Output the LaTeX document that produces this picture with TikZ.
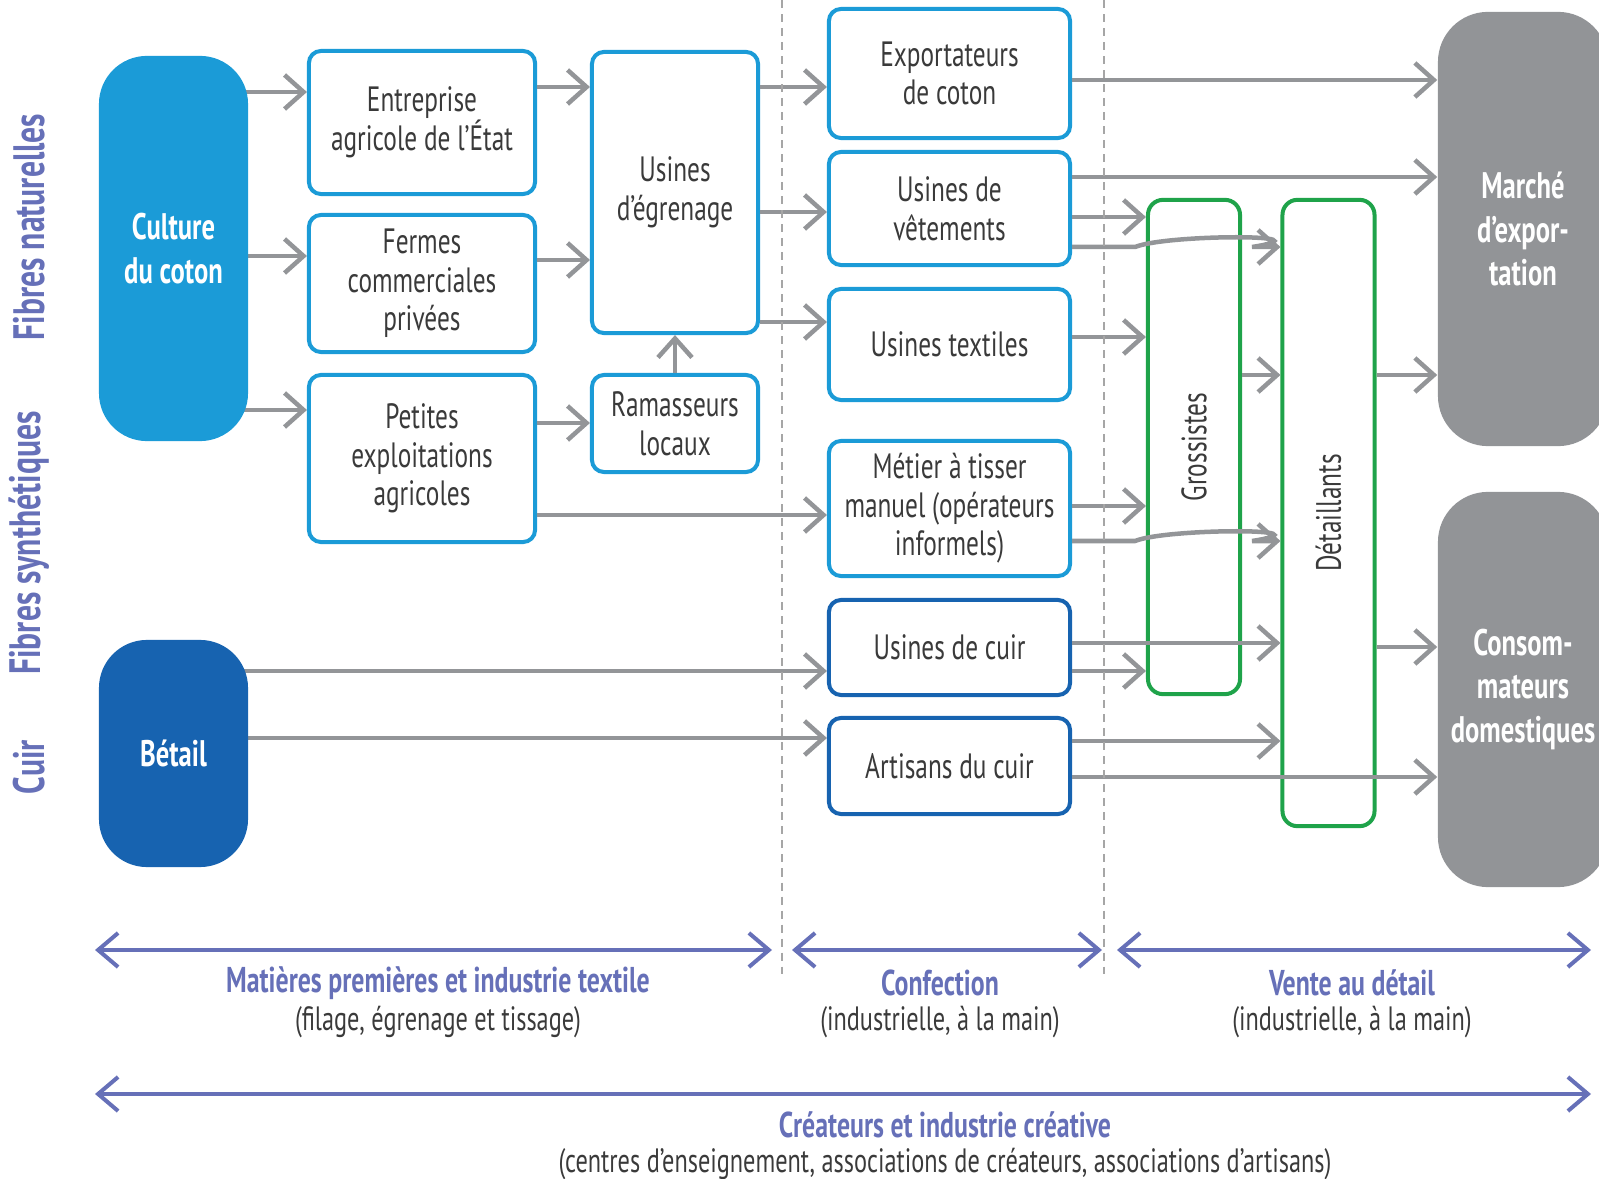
\documentclass[tikz,border=0pt]{standalone}
\usepackage{fontspec}
\setmainfont{PT Sans}[FakeStretch=0.72]
\usetikzlibrary{arrows.meta, backgrounds, calc}

\definecolor{cottonblue}{HTML}{1B9BD7}
\definecolor{leatherblue}{HTML}{1763B0}
\definecolor{flowgray}{HTML}{939598}
\definecolor{marketgray}{HTML}{929497}
\definecolor{tradegreen}{HTML}{1FA34A}
\definecolor{stagepurple}{HTML}{6670B8}
\definecolor{boxtext}{HTML}{3A3A3A}

\begin{document}
\begin{tikzpicture}[
            x=0.01cm, y=-0.01cm,
            base/.style = {rectangle, draw, line width=0.04cm, rounded corners=0.12cm, align=center, text=boxtext, font=\fontsize{10}{11}\selectfont, inner sep=2pt},
            cotton/.style = {base, draw=cottonblue, fill=white, minimum width=2.26cm},
            leather/.style = {base, draw=leatherblue, fill=white, minimum width=2.41cm},
            trade/.style = {base, draw=tradegreen, rounded corners=0.15cm, minimum width=0.92cm},
            source/.style = {rectangle, rounded corners=0.48cm, align=center, text=white, font=\bfseries\fontsize{10.5}{12.5}\selectfont, minimum width=1.49cm},
            market/.style = {source, fill=marketgray, rounded corners=0.5cm, minimum width=1.7cm},
            flow/.style = {draw=flowgray, line width=0.045cm, -{Straight Barb[length=0.19cm, width=0.34cm]}},
            span/.style = {draw=stagepurple, line width=0.04cm, {Straight Barb[length=0.2cm, width=0.34cm]}-{Straight Barb[length=0.2cm, width=0.34cm]}},
            stage/.style = {text=stagepurple, font=\bfseries\fontsize{10.2}{11}\selectfont},
            note/.style = {text=boxtext, font=\fontsize{9.6}{11}\selectfont},
            fibre/.style = {rotate=90, text=stagepurple, font=\bfseries\fontsize{12.5}{14}\selectfont},
            divider/.style = {draw=gray!70, line width=0.02cm, dash pattern=on 0.08cm off 0.06cm}
        ]
            \useasboundingbox (0,0) rectangle (1599,1179);
            \clip (0,0) rectangle (1599,1179);

            % --- 1. Side labels ---
            \node [fibre] (natural) at (29,227) {Fibres naturelles};
            \node [fibre] (synthetic) at (29,543) {Fibres synthétiques};
            \node [fibre] (leatherlbl) at (29,767) {Cuir};

            % --- 2. Sources ---
            \node [source, fill=cottonblue, minimum height=3.85cm] (cotton) at (173.5,248.5) {Culture\\du coton};
            \node [source, fill=leatherblue, minimum height=2.27cm] (cattle) at (173.5,753.5) {Bétail};

            % --- 3. Producers ---
            \node [cotton, minimum height=1.43cm] (state) at (422,122.5) {Entreprise\\agricole de l’État};
            \node [cotton, minimum height=1.37cm] (farms) at (422,283.5) {Fermes\\commerciales\\privées};
            \node [cotton, minimum height=1.67cm] (small) at (422,458.5) {Petites\\exploitations\\agricoles};

            \node [cotton, minimum width=1.66cm, minimum height=2.81cm] (ginning) at (675,192.5) {Usines\\d’égrenage};
            \node [cotton, minimum width=1.66cm, minimum height=0.97cm] (collect) at (675,423.5) {Ramasseurs\\locaux};

            % --- 4. Confection ---
            \node [leather, draw=cottonblue, minimum height=1.29cm] (export) at (949.5,73.5) {Exportateurs\\de coton};
            \node [leather, draw=cottonblue, minimum height=1.13cm] (garment) at (949.5,208.5) {Usines de\\vêtements};
            \node [leather, draw=cottonblue, minimum height=1.11cm] (textile) at (949.5,344.5) {Usines textiles};
            \node [leather, draw=cottonblue, minimum height=1.35cm] (loom) at (949.5,508.5) {Métier à tisser\\manuel (opérateurs\\informels)};
            \node [leather, minimum height=0.95cm] (tannery) at (949.5,647.5) {Usines de cuir};
            \node [leather, minimum height=0.96cm] (artisan) at (949.5,766) {Artisans du cuir};

            % --- 5. Trade and markets ---
            \node [trade, minimum height=4.94cm, label={[base, draw=none, rotate=90]center:Grossistes}] (whole) at (1194,447) {};
            \node [trade, minimum height=6.26cm, label={[base, draw=none, rotate=90]center:Détaillants}] (retail) at (1328.5,513) {};

            \node [market, minimum height=4.34cm] (abroad) at (1523,229) {Marché\\d’expor-\\tation};
            \node [market, minimum height=3.95cm] (home) at (1523,689.5) {Consom-\\mateurs\\domestiques};

            % --- 6. Connections ---
            \begin{scope}[on background layer]
            \draw [flow] (cotton.center |- 0,92) -- (state.west |- 0,92);
            \draw [flow] (cotton.center |- 0,256) -- (farms.west |- 0,256);
            \draw [flow] (cotton.center |- 0,410) -- (small.west |- 0,410);
            \draw [flow] (cattle.center |- 0,671) -- (tannery.west |- 0,671);
            \draw [flow] (cattle.center |- 0,738) -- (artisan.west |- 0,738);
            \end{scope}

            \draw [flow] (state.east |- 0,87) -- (ginning.west |- 0,87);
            \draw [flow] (farms.east |- 0,260) -- (ginning.west |- 0,260);
            \draw [flow] (small.east |- 0,423) -- (collect.west |- 0,423);
            \draw [flow] (collect) -- (ginning);
            \draw [flow] (small.east |- 0,515) -- (loom.west |- 0,515);

            \draw [flow] (ginning.east |- 0,87) -- (export.west |- 0,87);
            \draw [flow] (ginning.east |- 0,212) -- (garment.west |- 0,212);
            \draw [flow] (ginning.east |- 0,322) -- (textile.west |- 0,322);

            % garments, textiles, looms
            \draw [flow] (export.east |- 0,80) -- (abroad.west |- 0,80);
            \draw [flow] (garment.east |- 0,177) -- (abroad.west |- 0,177);
            \draw [flow] (garment.east |- 0,217) -- (whole.west |- 0,217);
            \draw [flow] (garment.east |- 0,247) -- ++(63,0) .. controls +(32,-13) and +(82,-13) .. ++(117,0) -- (retail.west |- 0,247);
            \draw [flow] (textile.east |- 0,337) -- (whole.west |- 0,337);
            \draw [flow] (loom.east |- 0,506) -- (whole.west |- 0,506);
            \draw [flow] (loom.east |- 0,541) -- ++(63,0) .. controls +(32,-13) and +(82,-13) .. ++(117,0) -- (retail.west |- 0,541);

            % leather
            \draw [flow] (tannery.east |- 0,643) -- (retail.west |- 0,643);
            \draw [flow] (tannery.east |- 0,671) -- (whole.west |- 0,671);
            \draw [flow] (artisan.east |- 0,741) -- (retail.west |- 0,741);
            \draw [flow] (artisan.east |- 0,777) -- (home.west |- 0,777);

            % to markets
            \draw [flow] (whole.east |- 0,375) -- (retail.west |- 0,375);
            \draw [flow] (retail.east |- 0,375) -- (abroad.west |- 0,375);
            \draw [flow] (retail.east |- 0,647) -- (home.west |- 0,647);

            % --- 7. Stages ---
            \draw [divider] (782,0) -- (782,974);
            \draw [divider] (1104,0) -- (1104,974);

            \coordinate (rawL) at (95,950);
            \coordinate (rawR) at (772,950);
            \coordinate (makeL) at (792,950);
            \coordinate (makeR) at (1102,950);
            \coordinate (sellL) at (1117,950);
            \coordinate (sellR) at (1591,950);
            \coordinate (creaL) at (95,1094);
            \coordinate (creaR) at (1591,1094);

            \draw [span] (rawL) -- (rawR);
            \draw [span] (makeL) -- (makeR);
            \draw [span] (sellL) -- (sellR);
            \draw [span] (creaL) -- (creaR);

            \node [stage] (rawtitle) at (438,983) {Matières premières et industrie textile};
            \node [note] (rawnote) at (438,1022) {(filage, égrenage et tissage)};
            \node [stage] (maketitle) at (940,983) {Confection};
            \node [note] (makenote) at (940,1022) {(industrielle, à la main)};
            \node [stage] (selltitle) at (1352,983) {Vente au détail};
            \node [note] (sellnote) at (1352,1022) {(industrielle, à la main)};
            \node [stage] (creatitle) at (945,1125) {Créateurs et industrie créative};
            \node [note] (creanote) at (945,1164) {(centres d’enseignement, associations de créateurs, associations d’artisans)};

        \end{tikzpicture}
\end{document}
